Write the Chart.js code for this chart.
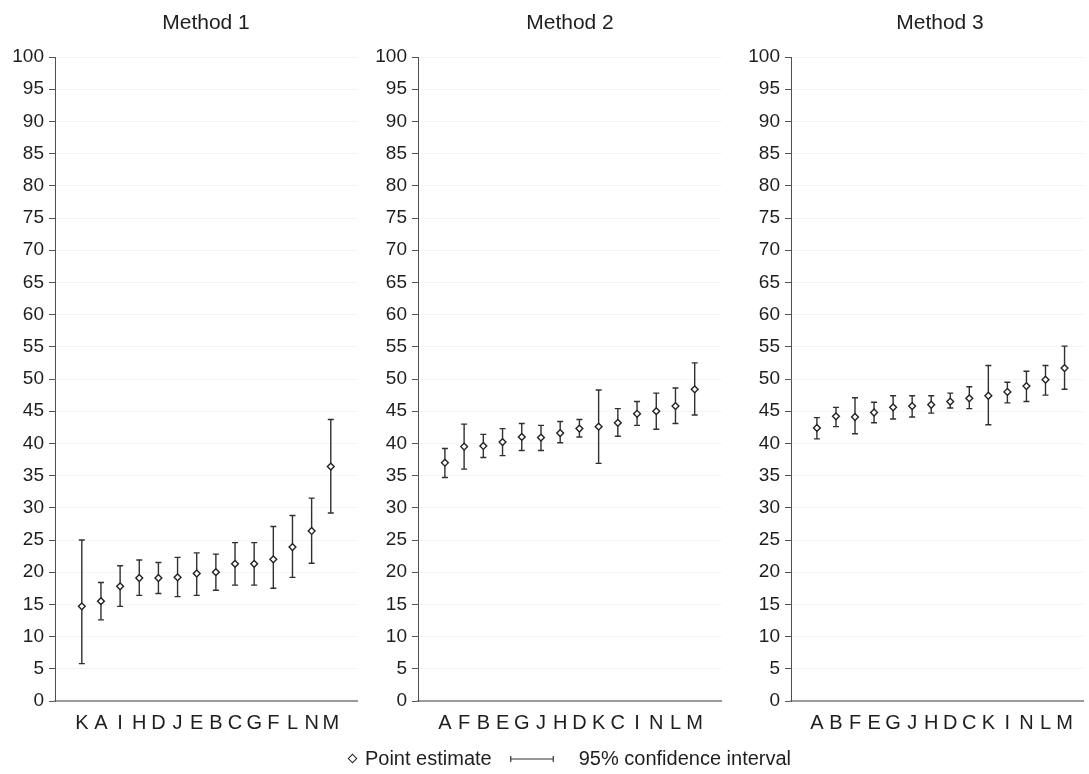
<!DOCTYPE html>
<html>
<head>
<meta charset="utf-8">
<script src="https://cdn.jsdelivr.net/npm/chart.js@4.4.1/dist/chart.umd.min.js"></script>
<style>
  html, body { margin: 0; padding: 0; background: #fff; }
  body { width: 1089px; height: 774px; position: relative; overflow: hidden;
         font-family: "Liberation Sans", Arial, sans-serif; color: #1e1e1e; }
  canvas.panel { position: absolute; top: 0; }
  .title { position: absolute; top: 10px; width: 200px; font-size: 21px; line-height: 24px; text-align: center; }
  #legend { position: absolute; top: 744px; left: 0; width: 1140px; text-align: center;
            font-size: 20px; line-height: 24px; white-space: nowrap; }
  .item { display: inline-block; vertical-align: middle; }
  .diamond { display: inline-block; width: 5px; height: 5px; border: 1.4px solid #222;
             transform: rotate(45deg); margin-right: 9px; vertical-align: middle; position: relative; top: -1px; }
  .ci { display: inline-block; vertical-align: middle; margin: 0 25px 0 18px; position: relative; top: -2px; }
</style>
</head>
<body>
<canvas id="c1" class="panel" width="363" height="774" style="left:0px;width:363px;height:774px"></canvas>
<canvas id="c2" class="panel" width="364" height="774" style="left:363px;width:364px;height:774px"></canvas>
<canvas id="c3" class="panel" width="362" height="774" style="left:727px;width:362px;height:774px"></canvas>

<div class="title" style="left:106px">Method 1</div>
<div class="title" style="left:470px">Method 2</div>
<div class="title" style="left:840px">Method 3</div>

<div id="legend">
  <span class="item"><span class="diamond"></span>Point estimate</span><span class="ci"><svg width="44" height="8"><line x1="0.5" y1="4" x2="43.5" y2="4" stroke="#333" stroke-width="1.2"/><line x1="0.75" y1="1" x2="0.75" y2="7" stroke="#333" stroke-width="1.2"/><line x1="43.25" y1="1" x2="43.25" y2="7" stroke="#333" stroke-width="1.2"/></svg></span><span class="item">95% confidence interval</span>
</div>

<script>
// Method 1
const m1Cats = ['K','A','I','H','D','J','E','B','C','G','F','L','N','M'];
const m1Est  = [14.7, 15.5, 17.8, 19.1, 19.1, 19.2, 19.8, 20.0, 21.3, 21.3, 22.0, 23.9, 26.4, 36.4];
const m1Low  = [ 5.8, 12.6, 14.7, 16.4, 16.7, 16.2, 16.4, 17.2, 18.0, 18.0, 17.5, 19.2, 21.4, 29.2];
const m1High = [25.0, 18.4, 21.0, 21.9, 21.5, 22.3, 23.0, 22.8, 24.6, 24.6, 27.1, 28.8, 31.5, 43.7];

// Method 2
const m2Cats = ['A','F','B','E','G','J','H','D','K','C','I','N','L','M'];
const m2Est  = [37.0, 39.5, 39.6, 40.2, 41.0, 40.9, 41.6, 42.3, 42.6, 43.2, 44.6, 45.0, 45.8, 48.4];
const m2Low  = [34.7, 36.0, 37.8, 38.1, 38.9, 38.9, 40.1, 41.0, 36.9, 41.1, 42.8, 42.2, 43.1, 44.4];
const m2High = [39.2, 43.0, 41.4, 42.3, 43.1, 42.8, 43.4, 43.7, 48.3, 45.4, 46.5, 47.8, 48.6, 52.5];

// Method 3
const m3Cats = ['A','B','F','E','G','J','H','D','C','K','I','N','L','M'];
const m3Est  = [42.4, 44.2, 44.1, 44.8, 45.6, 45.8, 46.0, 46.5, 47.0, 47.4, 48.0, 48.9, 49.9, 51.7];
const m3Low  = [40.7, 42.6, 41.5, 43.2, 43.8, 44.1, 44.7, 45.5, 45.4, 42.9, 46.3, 46.5, 47.5, 48.4];
const m3High = [44.0, 45.6, 47.1, 46.4, 47.4, 47.4, 47.4, 47.8, 48.8, 52.1, 49.5, 51.2, 52.1, 55.1];

// Shared value axis
const yMin = 0, yMax = 100, yStep = 5;

const FAMILY = '"Liberation Sans", Arial, sans-serif';
const TEXT = '#1e1e1e';

// Draws the 95% CI whiskers under the point markers
const ciBars = {
  id: 'ciBars',
  beforeDatasetsDraw(chart) {
    const ds = chart.data.datasets[0];
    const xs = chart.scales.x, ys = chart.scales.y;
    const ctx = chart.ctx;
    ctx.save();
    ctx.strokeStyle = '#303030';
    ctx.lineWidth = 1.4;
    ds.ciLow.forEach((lo, i) => {
      const hi = ds.ciHigh[i];
      const x = xs.getPixelForValue(i);
      const yl = ys.getPixelForValue(lo);
      const yh = ys.getPixelForValue(hi);
      ctx.beginPath();
      ctx.moveTo(x, yl); ctx.lineTo(x, yh);
      ctx.moveTo(x - 3, yl); ctx.lineTo(x + 3, yl);
      ctx.moveTo(x - 3, yh); ctx.lineTo(x + 3, yh);
      ctx.stroke();
    });
    ctx.restore();
  }
};

function makePanel(id, cats, est, low, high, axisWidth, padRight, xMin, xMax) {
  new Chart(document.getElementById(id), {
    type: 'scatter',
    data: {
      datasets: [{
        data: est.map((v, i) => ({ x: i, y: v })),
        ciLow: low,
        ciHigh: high,
        pointStyle: 'rectRot',
        pointRadius: 3.4,
        pointBorderWidth: 1.4,
        pointBorderColor: '#222',
        pointBackgroundColor: '#fff',
        showLine: false
      }]
    },
    options: {
      responsive: false,
      animation: false,
      devicePixelRatio: 1,
      layout: { padding: { top: 57, right: padRight, bottom: 0, left: 0 } },
      plugins: { legend: { display: false }, tooltip: { enabled: false } },
      scales: {
        x: {
          type: 'linear',
          min: xMin, max: xMax,
          afterBuildTicks: s => { s.ticks = cats.map((c, i) => ({ value: i })); },
          afterFit: s => { s.height = 73; },
          grid: { display: false, drawTicks: false },
          border: { display: true, color: '#9a9a9a', width: 2 },
          ticks: {
            autoSkip: false, maxRotation: 0, padding: 10,
            color: TEXT, font: { family: FAMILY, size: 20 },
            callback: v => cats[v]
          }
        },
        y: {
          min: yMin, max: yMax,
          afterFit: s => { s.width = axisWidth; },
          grid: { color: '#f4f4f4', tickColor: '#555', tickLength: 6, drawTicks: true },
          border: { display: true, color: '#505050', width: 1 },
          ticks: { stepSize: yStep, padding: 5, color: TEXT, font: { family: FAMILY, size: 19 } }
        }
      }
    },
    plugins: [ciBars]
  });
}

makePanel('c1', m1Cats, m1Est, m1Low, m1High, 55, 5, -1.4, 14.4);
makePanel('c2', m2Cats, m2Est, m2Low, m2High, 55, 5, -1.4, 14.4);
makePanel('c3', m3Cats, m3Est, m3Low, m3High, 64, 1, -1.36, 14.0);
</script>
</body>
</html>
